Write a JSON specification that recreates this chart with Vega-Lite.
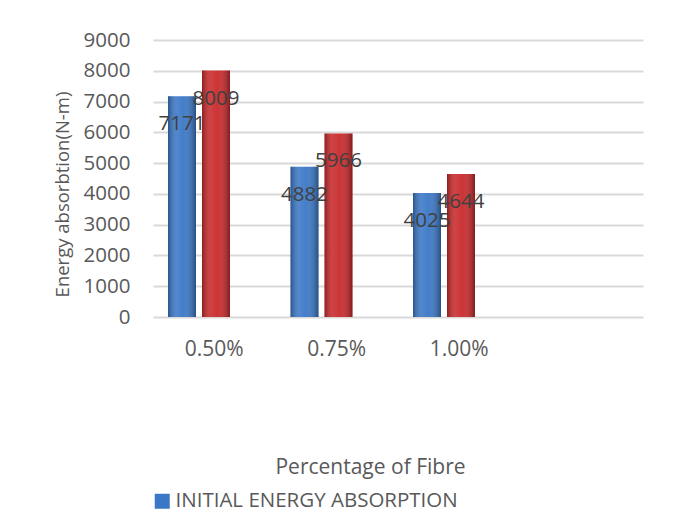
{
  "$schema": "https://vega.github.io/schema/vega-lite/v6.json",
  "autosize": {"type": "none"},
  "width": 490,
  "height": 277,
  "padding": {"left": 153, "top": 40, "right": 34, "bottom": 208},
  "background": "white",
  "config": {
    "view": {"stroke": null},
    "font": "Open Sans"
  },
  "data": {
    "values": [
      {"pct": "0.50%", "series": "INITIAL ENERGY ABSORPTION", "value": 7171},
      {"pct": "0.50%", "series": "ULTIMATE ENERGY ABSORPTION", "value": 8009},
      {"pct": "0.75%", "series": "INITIAL ENERGY ABSORPTION", "value": 4882},
      {"pct": "0.75%", "series": "ULTIMATE ENERGY ABSORPTION", "value": 5966},
      {"pct": "1.00%", "series": "INITIAL ENERGY ABSORPTION", "value": 4025},
      {"pct": "1.00%", "series": "ULTIMATE ENERGY ABSORPTION", "value": 4644}
    ]
  },
  "encoding": {
    "x": {
      "field": "pct",
      "type": "nominal",
      "scale": {"domain": ["0.50%", "0.75%", "1.00%", " "], "paddingInner": 0, "paddingOuter": 0},
      "axis": {
        "title": "Percentage of Fibre",
        "labelAngle": 0,
        "labelFontSize": 21,
        "labelColor": "#595959",
        "labelBaseline": "middle",
        "labelPadding": 32,
        "ticks": false,
        "domain": false,
        "titleFontSize": 21,
        "titleFontWeight": "normal",
        "titleColor": "#595959",
        "titleX": 217,
        "titleY": 150,
        "titleAlign": "center",
        "titleBaseline": "middle"
      }
    },
    "xOffset": {
      "field": "series",
      "type": "nominal",
      "scale": {"domain": ["INITIAL ENERGY ABSORPTION", "ULTIMATE ENERGY ABSORPTION"], "paddingInner": 0.1765, "paddingOuter": 0.89, "align": 0.248}
    },
    "y": {
      "field": "value",
      "type": "quantitative",
      "scale": {"domain": [0, 9000], "nice": false},
      "axis": {
        "title": "Energy absorbtion(N-m)",
        "values": [0, 1000, 2000, 3000, 4000, 5000, 6000, 7000, 8000, 9000],
        "format": "d",
        "labelFontSize": 20.5,
        "labelColor": "#595959",
        "labelPadding": 23,
        "ticks": false,
        "domain": false,
        "gridColor": "#d9d9d9",
        "gridWidth": 2,
        "titleFontSize": 18.5,
        "titleFontWeight": "normal",
        "titleColor": "#595959",
        "titleX": -91,
        "titleY": 154,
        "titleAngle": -90,
        "titleAlign": "center",
        "titleBaseline": "middle"
      }
    }
  },
  "layer": [
    {
      "mark": {"type": "bar"},
      "encoding": {
        "color": {
          "field": "series",
          "type": "nominal",
          "scale": {"domain": ["INITIAL ENERGY ABSORPTION", "ULTIMATE ENERGY ABSORPTION"], "range": ["#3a77c6", "#c9292b"]},
          "legend": {
            "values": ["INITIAL ENERGY ABSORPTION"],
            "title": null,
            "orient": "none",
            "legendX": -1,
            "legendY": 451,
            "symbolType": "square",
            "symbolSize": 225,
            "symbolStrokeWidth": 0,
            "labelFontSize": 20.5,
            "labelColor": "#595959",
            "labelOffset": 3,
            "labelLimit": 400
          }
        }
      }
    },
    {
      "mark": {
        "type": "bar",
        "fill": {
          "gradient": "linear",
          "x1": 0, "x2": 1, "y1": 0, "y2": 0,
          "stops": [
            {"offset": 0, "color": "rgba(0,0,0,0.30)"},
            {"offset": 0.3, "color": "rgba(255,255,255,0.12)"},
            {"offset": 0.55, "color": "rgba(255,255,255,0.05)"},
            {"offset": 1, "color": "rgba(0,0,0,0.35)"}
          ]
        }
      },
      "encoding": {}
    },
    {
      "mark": {"type": "text", "baseline": "middle", "align": "center", "dy": 28, "fontSize": 20.5, "color": "#404040"},
      "encoding": {
        "text": {"field": "value", "type": "quantitative", "format": "d"}
      }
    }
  ]
}
